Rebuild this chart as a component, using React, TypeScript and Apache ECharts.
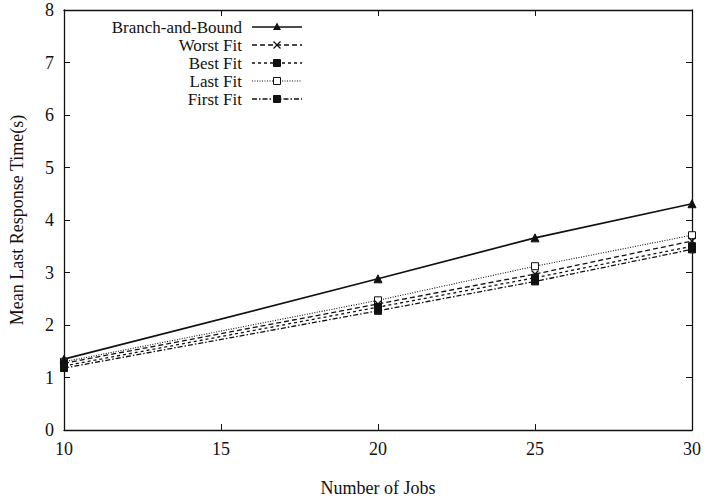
import React, { useEffect, useRef } from "react";
import * as echarts from "echarts";

const jobs = [10, 20, 25, 30];
const branchAndBound = [1.35, 2.88, 3.66, 4.31];
const worstFit = [1.27, 2.4, 2.97, 3.6];
const bestFit = [1.22, 2.34, 2.9, 3.5];
const lastFit = [1.3, 2.47, 3.12, 3.71];
const firstFit = [1.18, 2.27, 2.83, 3.44];

const seriesNames = ["Branch-and-Bound", "Worst Fit", "Best Fit", "Last Fit", "First Fit"];
const yTicks = [0, 1, 2, 3, 4, 5, 6, 7, 8];
const xTicks = [10, 15, 20, 25, 30];

const FONT = "'Liberation Serif', 'Times New Roman', serif";
const FONT_SIZE = 18;
const LEGEND_FONT_SIZE = 17;
const INK = "#111";

type Style = {
  dash: number[] | "solid";
  width: number;
  symbol: string;
  filled: boolean;
  size: number;
};

const styles: Style[] = [
  { dash: "solid", width: 1.7, symbol: "triangle", filled: true, size: 8 },
  { dash: [5, 3], width: 1.3, symbol: "x", filled: true, size: 7 },
  { dash: [3, 3], width: 1.3, symbol: "rect", filled: true, size: 7 },
  { dash: [1, 1.5], width: 1.1, symbol: "rect", filled: false, size: 7 },
  { dash: [5, 2, 1.5, 2], width: 1.3, symbol: "rect", filled: true, size: 7 },
];

const crossPath = "path://M0,0 L10,10 M10,0 L0,10";

function symbolOf(s: Style) {
  if (s.symbol === "x") return crossPath;
  return s.symbol;
}

export default function App() {
  const ref = useRef<HTMLDivElement>(null);

  useEffect(() => {
    if (!ref.current) return;
    const chart = echarts.init(ref.current, null, { renderer: "svg" });
    const values = [branchAndBound, worstFit, bestFit, lastFit, firstFit];

    const series = values.map((vals, i) => {
      const s = styles[i];
      return {
        name: seriesNames[i],
        type: "line",
        data: jobs.map((x, k) => [x, vals[k]]),
        symbol: symbolOf(s),
        symbolSize: s.size,
        showAllSymbol: true,
        z: 10 - i,
        lineStyle: { color: INK, width: s.width, type: s.dash },
        itemStyle: {
          color: s.filled ? INK : "#fff",
          borderColor: INK,
          borderWidth: s.symbol === "x" ? 1.3 : 1,
        },
      };
    });

    // legend rows: right-aligned label followed by a line sample with its marker
    const legendGraphics: any[] = [];
    const rowY0 = 27;
    const rowStep = 18;
    styles.forEach((s, i) => {
      const y = rowY0 + i * rowStep;
      legendGraphics.push({
        type: "text",
        x: 242,
        y,
        style: {
          text: seriesNames[i],
          align: "right",
          verticalAlign: "middle",
          fontFamily: FONT,
          fontSize: LEGEND_FONT_SIZE,
          fill: INK,
        },
      });
      legendGraphics.push({
        type: "line",
        shape: { x1: 252, y1: y, x2: 302, y2: y },
        style: {
          stroke: INK,
          lineWidth: s.width,
          lineDash: s.dash === "solid" ? null : s.dash,
        },
      });
      const cx = 277;
      if (s.symbol === "triangle") {
        legendGraphics.push({
          type: "polygon",
          shape: { points: [[cx, y - 4.5], [cx - 4, y + 3], [cx + 4, y + 3]] },
          style: { fill: INK },
        });
      } else if (s.symbol === "x") {
        legendGraphics.push({
          type: "line",
          shape: { x1: cx - 3.5, y1: y - 3.5, x2: cx + 3.5, y2: y + 3.5 },
          style: { stroke: INK, lineWidth: 1.3 },
        });
        legendGraphics.push({
          type: "line",
          shape: { x1: cx + 3.5, y1: y - 3.5, x2: cx - 3.5, y2: y + 3.5 },
          style: { stroke: INK, lineWidth: 1.3 },
        });
      } else {
        legendGraphics.push({
          type: "rect",
          shape: { x: cx - 3.5, y: y - 3.5, width: 7, height: 7 },
          style: { fill: s.filled ? INK : "#fff", stroke: INK, lineWidth: 1 },
        });
      }
    });

    const axisCommon = {
      axisLine: { show: true, onZero: false, lineStyle: { color: INK, width: 1.3 } },
      axisTick: { show: true, inside: true, length: 6, lineStyle: { color: INK, width: 1 } },
      splitLine: { show: false },
    };

    chart.setOption({
      animation: false,
      backgroundColor: "#fff",
      textStyle: { fontFamily: FONT },
      grid: { left: 56, right: 9, top: 10, bottom: 59, containLabel: false },
      xAxis: [
        {
          type: "value",
          min: xTicks[0],
          max: xTicks[xTicks.length - 1],
          interval: 5,
          name: "Number of Jobs",
          nameLocation: "middle",
          nameGap: 49,
          nameTextStyle: { fontFamily: FONT, fontSize: FONT_SIZE, color: INK },
          axisLabel: {
            fontFamily: FONT,
            fontSize: FONT_SIZE,
            color: INK,
            margin: 10,
            showMinLabel: true,
            showMaxLabel: true,
          },
          ...axisCommon,
        },
        {
          type: "value",
          position: "top",
          min: xTicks[0],
          max: xTicks[xTicks.length - 1],
          interval: 5,
          axisLabel: { show: false },
          ...axisCommon,
        },
      ],
      yAxis: [
        {
          type: "value",
          min: yTicks[0],
          max: yTicks[yTicks.length - 1],
          interval: 1,
          name: "Mean Last Response Time(s)",
          nameLocation: "middle",
          nameGap: 38,
          nameTextStyle: { fontFamily: FONT, fontSize: FONT_SIZE, color: INK },
          axisLabel: { fontFamily: FONT, fontSize: FONT_SIZE, color: INK, margin: 10 },
          ...axisCommon,
        },
        {
          type: "value",
          position: "right",
          min: yTicks[0],
          max: yTicks[yTicks.length - 1],
          interval: 1,
          axisLabel: { show: false },
          ...axisCommon,
        },
      ],
      series,
      graphic: legendGraphics,
    });

    return () => chart.dispose();
  }, []);

  return (
    <div
      ref={ref}
      style={{ position: "absolute", left: 0, top: 0, width: 704, height: 502 }}
    />
  );
}
